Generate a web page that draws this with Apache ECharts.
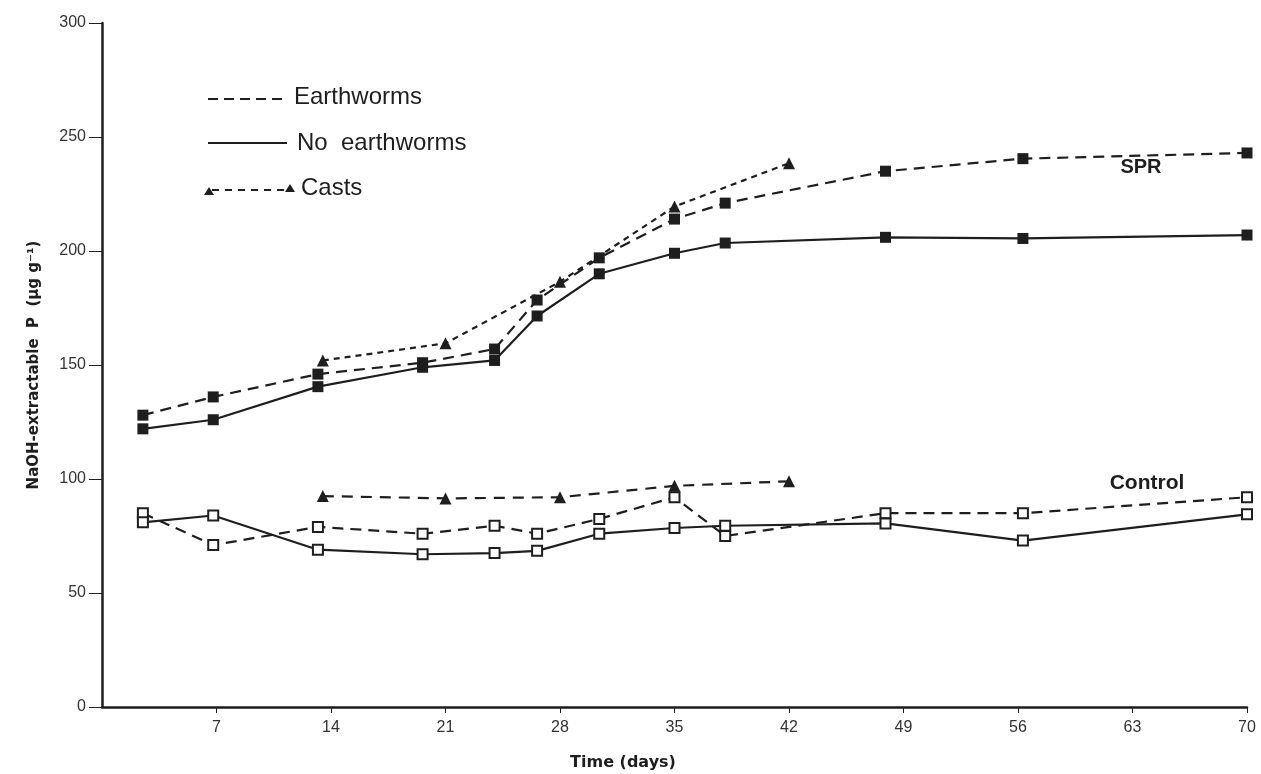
<!DOCTYPE html>
<html lang="en">
<head>
  <meta charset="UTF-8">
  <script src="https://cdn.jsdelivr.net/npm/echarts@6/dist/echarts.min.js"></script>
  <title>NaOH-extractable P</title>
</head>
<body style="margin:0;background:#fff">
  <div id="chart" style="width:1261px;height:774px"></div>
  <script>
    // sampling days
    const days = [2.5, 6.8, 13.2, 19.6, 24, 26.6, 30.4, 35, 38.1, 47.9, 56.3, 70];
    const castDays = [13.5, 21, 28, 35, 42];
    const xTicks = [7, 14, 21, 28, 35, 42, 49, 56, 63, 70];
    const yTicks = [0, 50, 100, 150, 200, 250, 300];

    // SPR
    const sprWorms = [128, 136, 146, 151, 157, 178.5, 197, 214, 221, 235, 240.5, 243];
    const sprNoWorms = [122, 126, 140.5, 149, 152, 171.5, 190, 199, 203.5, 206, 205.5, 207];
    const sprCasts = [152, 159.5, 186.5, 219.5, 238.5];
    // Control
    const ctlWorms = [85, 71, 79, 76, 79.5, 76, 82.5, 92, 75, 85, 85, 92];
    const ctlNoWorms = [81, 84, 69, 67, 67.5, 68.5, 76, 78.5, 79.5, 80.5, 73, 84.5];
    const ctlCasts = [92.5, 91.5, 92, 97, 99];

    const ink = '#1e1e1e';
    const pair = (xs, ys) => xs.map((x, i) => [x, ys[i]]);

    function line(name, xs, ys, dashed, symbol, open) {
      return {
        name: name,
        type: 'line',
        data: pair(xs, ys),
        symbol: symbol,
        symbolSize: symbol === 'triangle' ? 12 : (open ? 10 : 11),
        lineStyle: { color: ink, width: 2.2, type: dashed || 'solid' },
        itemStyle: open
          ? { color: '#fff', borderColor: ink, borderWidth: 2 }
          : { color: ink, borderWidth: 0 },
        z: open ? 3 : 2,
        animation: false
      };
    }

    const chart = echarts.init(document.getElementById('chart'));
    chart.setOption({
      backgroundColor: '#fff',
      grid: { left: 102, right: 14, top: 23, bottom: 67 },
      xAxis: {
        type: 'value', min: 0, max: 70, interval: 7,
        axisLine: { lineStyle: { color: ink, width: 2.5 } },
        axisTick: { length: 6, customValues: xTicks, lineStyle: { color: ink, width: 1 } },
        axisLabel: {
          margin: 13, fontFamily: 'Liberation Sans', fontSize: 16, color: '#333',
          customValues: xTicks
        },
        splitLine: { show: false }
      },
      yAxis: {
        type: 'value', min: 0, max: 300, interval: 50,
        name: 'NaOH-extractable  P  (µg g⁻¹)', nameLocation: 'middle', nameGap: 60, nameRotate: 90,
        nameTextStyle: { fontFamily: 'DejaVu Sans', fontWeight: 'bold', fontSize: 15, color: ink },
        axisLine: { show: true, lineStyle: { color: ink, width: 2.5 } },
        axisTick: { show: true, length: 13, customValues: yTicks, lineStyle: { color: ink, width: 1 } },
        axisLabel: {
          margin: 16, fontFamily: 'Liberation Sans', fontSize: 16, color: '#333',
          customValues: yTicks
        },
        splitLine: { show: false }
      },
      series: [
        line('SPR casts', castDays, sprCasts, [6, 5], 'triangle', false),
        line('SPR earthworms', days, sprWorms, [11, 7], 'rect', false),
        line('SPR no earthworms', days, sprNoWorms, 'solid', 'rect', false),
        line('Control casts', castDays, ctlCasts, [11, 8], 'triangle', false),
        line('Control earthworms', days, ctlWorms, [11, 7], 'rect', true),
        line('Control no earthworms', days, ctlNoWorms, 'solid', 'rect', true)
      ],
      graphic: [
        // legend
        { type: 'line', shape: { x1: 208, y1: 99, x2: 288, y2: 99 }, style: { stroke: ink, lineWidth: 2.2, lineDash: [10, 6] } },
        { type: 'text', x: 294, y: 97, style: { text: 'Earthworms', font: '24px "Liberation Sans"', fill: ink, verticalAlign: 'middle' } },
        { type: 'line', shape: { x1: 208, y1: 143, x2: 287, y2: 143 }, style: { stroke: ink, lineWidth: 2.2 } },
        { type: 'text', x: 297, y: 143, style: { text: 'No  earthworms', font: '24px "Liberation Sans"', fill: ink, verticalAlign: 'middle' } },
        { type: 'line', shape: { x1: 212, y1: 190, x2: 288, y2: 190 }, style: { stroke: ink, lineWidth: 2, lineDash: [7, 6] } },
        { type: 'polygon', shape: { points: [[204, 195], [214, 195], [209, 187]] }, style: { fill: ink } },
        { type: 'polygon', shape: { points: [[285, 192], [295, 192], [290, 184]] }, style: { fill: ink } },
        { type: 'text', x: 301, y: 188, style: { text: 'Casts', font: '24px "Liberation Sans"', fill: ink, verticalAlign: 'middle' } },
        // group labels
        { type: 'text', x: 1141, y: 167, style: { text: 'SPR', font: 'bold 20px "Liberation Sans"', fill: ink, align: 'center', verticalAlign: 'middle' } },
        { type: 'text', x: 1147, y: 483, style: { text: 'Control', font: 'bold 21px "Liberation Sans"', fill: ink, align: 'center', verticalAlign: 'middle' } },
        // x axis title
        { type: 'text', x: 623, y: 763, style: { text: 'Time (days)', font: 'bold 16px "DejaVu Sans"', fill: ink, align: 'center', verticalAlign: 'middle' } }
      ]
    });
  </script>
</body>
</html>
